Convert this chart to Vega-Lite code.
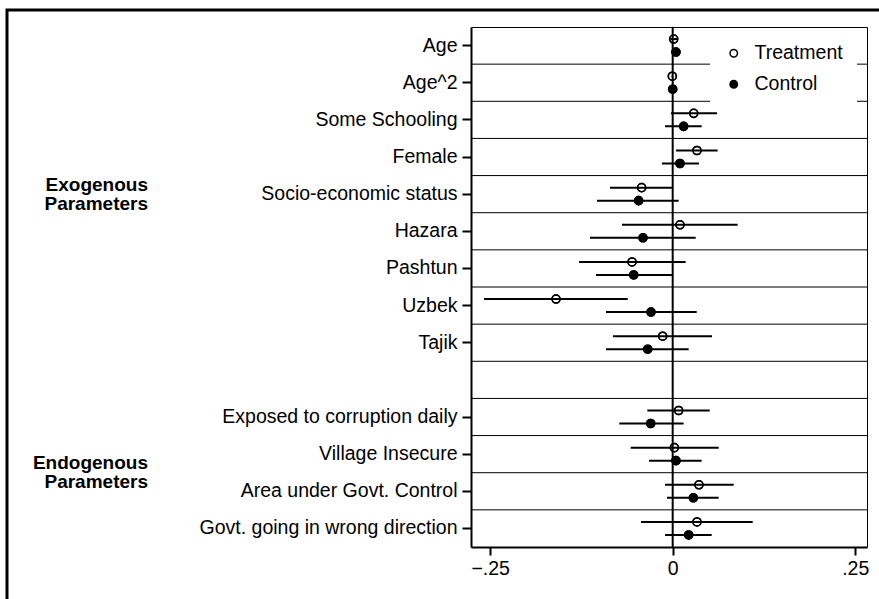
{
  "$schema": "https://vega.github.io/schema/vega-lite/v6.json",
  "autosize": {"type": "none"},
  "width": 875,
  "height": 592,
  "padding": {"left": 7, "top": 10, "right": -3, "bottom": -3},
  "background": "white",
  "config": {
    "view": {"stroke": "black", "strokeWidth": 3},
    "font": "Liberation Sans"
  },
  "datasets": {
    "coefs": [
      {"cat": "Age", "series": "Treatment", "est": 0.0014, "lo": -0.003, "hi": 0.006},
      {"cat": "Age", "series": "Control", "est": 0.0045, "lo": 0.0025, "hi": 0.0065},
      {"cat": "Age^2", "series": "Treatment", "est": -0.0005, "lo": -0.0015, "hi": 0.0005},
      {"cat": "Age^2", "series": "Control", "est": 0.0, "lo": -0.001, "hi": 0.001},
      {"cat": "Some Schooling", "series": "Treatment", "est": 0.0288, "lo": -0.0023, "hi": 0.0607},
      {"cat": "Some Schooling", "series": "Control", "est": 0.015, "lo": -0.0105, "hi": 0.0397},
      {"cat": "Female", "series": "Treatment", "est": 0.0333, "lo": 0.0045, "hi": 0.0616},
      {"cat": "Female", "series": "Control", "est": 0.01, "lo": -0.0147, "hi": 0.036},
      {"cat": "Socio-economic status", "series": "Treatment", "est": -0.0425, "lo": -0.0859, "hi": -0.0005},
      {"cat": "Socio-economic status", "series": "Control", "est": -0.0466, "lo": -0.1037, "hi": 0.0082},
      {"cat": "Hazara", "series": "Treatment", "est": 0.01, "lo": -0.0694, "hi": 0.089},
      {"cat": "Hazara", "series": "Control", "est": -0.0407, "lo": -0.1133, "hi": 0.0315},
      {"cat": "Pashtun", "series": "Treatment", "est": -0.0557, "lo": -0.1283, "hi": 0.0178},
      {"cat": "Pashtun", "series": "Control", "est": -0.0534, "lo": -0.1051, "hi": -0.0005},
      {"cat": "Uzbek", "series": "Treatment", "est": -0.1598, "lo": -0.2584, "hi": -0.0616},
      {"cat": "Uzbek", "series": "Control", "est": -0.0297, "lo": -0.0914, "hi": 0.0329},
      {"cat": "Tajik", "series": "Treatment", "est": -0.0137, "lo": -0.0818, "hi": 0.0539},
      {"cat": "Tajik", "series": "Control", "est": -0.0342, "lo": -0.0914, "hi": 0.0219},
      {"cat": "Exposed to corruption daily", "series": "Treatment", "est": 0.0082, "lo": -0.0347, "hi": 0.0507},
      {"cat": "Exposed to corruption daily", "series": "Control", "est": -0.0301, "lo": -0.0731, "hi": 0.015},
      {"cat": "Village Insecure", "series": "Treatment", "est": 0.0023, "lo": -0.0575, "hi": 0.063},
      {"cat": "Village Insecure", "series": "Control", "est": 0.0045, "lo": -0.0324, "hi": 0.0397},
      {"cat": "Area under Govt. Control", "series": "Treatment", "est": 0.036, "lo": -0.0105, "hi": 0.0836},
      {"cat": "Area under Govt. Control", "series": "Control", "est": 0.0283, "lo": -0.0078, "hi": 0.063},
      {"cat": "Govt. going in wrong direction", "series": "Treatment", "est": 0.0333, "lo": -0.0434, "hi": 0.1096},
      {"cat": "Govt. going in wrong direction", "series": "Control", "est": 0.0219, "lo": -0.0105, "hi": 0.0534}
    ],
    "rows": [
      {"cat": "Age"}, {"cat": "Age^2"}, {"cat": "Some Schooling"}, {"cat": "Female"},
      {"cat": "Socio-economic status"}, {"cat": "Hazara"}, {"cat": "Pashtun"}, {"cat": "Uzbek"},
      {"cat": "Tajik"}, {"cat": " "}, {"cat": "Exposed to corruption daily"}, {"cat": "Village Insecure"},
      {"cat": "Area under Govt. Control"}, {"cat": "Govt. going in wrong direction"}
    ],
    "exo": [{"cat": "Socio-economic status", "label": "Exogenous\nParameters"}],
    "endo": [{"cat": "Area under Govt. Control", "label": "Endogenous\nParameters"}]
  },
  "resolve": {"axis": {"x": "independent", "y": "independent"}},
  "layer": [
    {
      "data": {"name": "coefs"},
      "mark": {"type": "circle", "size": 65, "stroke": "black", "strokeWidth": 1.5, "opacity": 1},
      "encoding": {
        "y": {
          "field": "cat", "type": "nominal",
          "scale": {
            "domain": ["Age", "Age^2", "Some Schooling", "Female", "Socio-economic status", "Hazara", "Pashtun", "Uzbek", "Tajik", " ", "Exposed to corruption daily", "Village Insecure", "Area under Govt. Control", "Govt. going in wrong direction"],
            "range": [17, 537], "paddingInner": 0, "paddingOuter": 0
          },
          "axis": {
            "orient": "left", "offset": -464, "title": null, "grid": false,
            "values": ["Age", "Age^2", "Some Schooling", "Female", "Socio-economic status", "Hazara", "Pashtun", "Uzbek", "Tajik", "Exposed to corruption daily", "Village Insecure", "Area under Govt. Control", "Govt. going in wrong direction"],
            "domainWidth": 2, "domainColor": "black", "tickWidth": 2, "tickSize": 9, "tickColor": "black",
            "labelFontSize": 19.5, "labelFont": "Liberation Sans", "labelColor": "black", "labelPadding": 5, "labelLimit": 500
          }
        },
        "yOffset": {
          "field": "series", "type": "nominal",
          "scale": {"domain": ["Treatment", "Control"], "paddingInner": 0, "paddingOuter": 0.4286}
        },
        "x": {
          "field": "est", "type": "quantitative",
          "scale": {"domain": [-0.2763, 0.2662], "range": [464, 860], "nice": false, "zero": false},
          "axis": {
            "orient": "bottom", "offset": -55, "title": null, "grid": false,
            "values": [-0.25, 0, 0.25],
            "labelExpr": "datum.value == 0 ? '0' : replace(format(datum.value, '.2f'), '0.', '.')",
            "domainWidth": 2, "domainColor": "black", "tickWidth": 2, "tickSize": 8, "tickColor": "black",
            "labelFontSize": 19.5, "labelFont": "Liberation Sans", "labelColor": "black", "labelPadding": 4
          }
        },
        "fill": {
          "field": "series", "type": "nominal",
          "scale": {"domain": ["Treatment", "Control"], "range": ["transparent", "black"]},
          "legend": {
            "orient": "none", "legendX": 703, "legendY": 19.5, "padding": 14, "fillColor": "white",
            "title": null, "labelFontSize": 19.5, "labelFont": "Liberation Sans", "labelColor": "black",
            "symbolType": "circle", "symbolSize": 55, "symbolStrokeColor": "black", "symbolStrokeWidth": 1.5,
            "symbolOpacity": 1, "labelOffset": 11, "rowPadding": 10
          }
        }
      }
    },
    {
      "data": {"name": "rows"},
      "transform": [{"filter": "datum.cat !== 'Age'"}],
      "mark": {"type": "rule", "color": "black", "strokeWidth": 1},
      "encoding": {
        "y": {"field": "cat", "type": "nominal", "bandPosition": 0,
          "axis": {"orient": "right", "offset": -15, "title": null, "grid": false, "ticks": false, "labels": false, "domainWidth": 1, "domainColor": "black"}},
        "x": {"datum": -0.2763, "type": "quantitative",
          "axis": {"orient": "top", "offset": -17, "title": null, "grid": false, "ticks": false, "labels": false, "domainWidth": 1, "domainColor": "black"}},
        "x2": {"datum": 0.2662}
      }
    },
    {
      "data": {"name": "rows"},
      "mark": {"type": "tick", "orient": "vertical", "color": "black", "thickness": 2, "size": 37.5, "opacity": 1},
      "encoding": {
        "y": {"field": "cat", "type": "nominal", "axis": null},
        "x": {"datum": 0, "type": "quantitative", "axis": null}
      }
    },
    {
      "data": {"name": "coefs"},
      "mark": {"type": "rule", "color": "black", "strokeWidth": 2},
      "encoding": {
        "y": {"field": "cat", "type": "nominal", "axis": null},
        "yOffset": {"field": "series", "type": "nominal"},
        "x": {"field": "lo", "type": "quantitative", "axis": null},
        "x2": {"field": "hi"}
      }
    },
    {
      "data": {"name": "coefs"},
      "mark": {"type": "circle", "size": 65, "stroke": "black", "strokeWidth": 1.5, "opacity": 1},
      "encoding": {
        "y": {"field": "cat", "type": "nominal", "axis": null},
        "yOffset": {"field": "series", "type": "nominal"},
        "x": {"field": "est", "type": "quantitative", "axis": null},
        "fill": {"field": "series", "type": "nominal", "legend": null}
      }
    },
    {
      "data": {"name": "exo"},
      "mark": {"type": "text", "align": "right", "baseline": "middle", "fontWeight": "bold", "fontSize": 19, "lineHeight": 19, "dy": -9.5, "lineBreak": "\n", "color": "black", "font": "Liberation Sans"},
      "encoding": {
        "y": {"field": "cat", "type": "nominal", "axis": null},
        "x": {"datum": -0.7188, "type": "quantitative", "axis": null},
        "text": {"field": "label"}
      }
    },
    {
      "data": {"name": "endo"},
      "mark": {"type": "text", "align": "right", "baseline": "middle", "fontWeight": "bold", "fontSize": 19, "lineHeight": 19, "dy": -9.5, "lineBreak": "\n", "color": "black", "font": "Liberation Sans"},
      "encoding": {
        "y": {"field": "cat", "type": "nominal", "bandPosition": 0, "axis": null},
        "x": {"datum": -0.7188, "type": "quantitative", "axis": null},
        "text": {"field": "label"}
      }
    }
  ]
}
